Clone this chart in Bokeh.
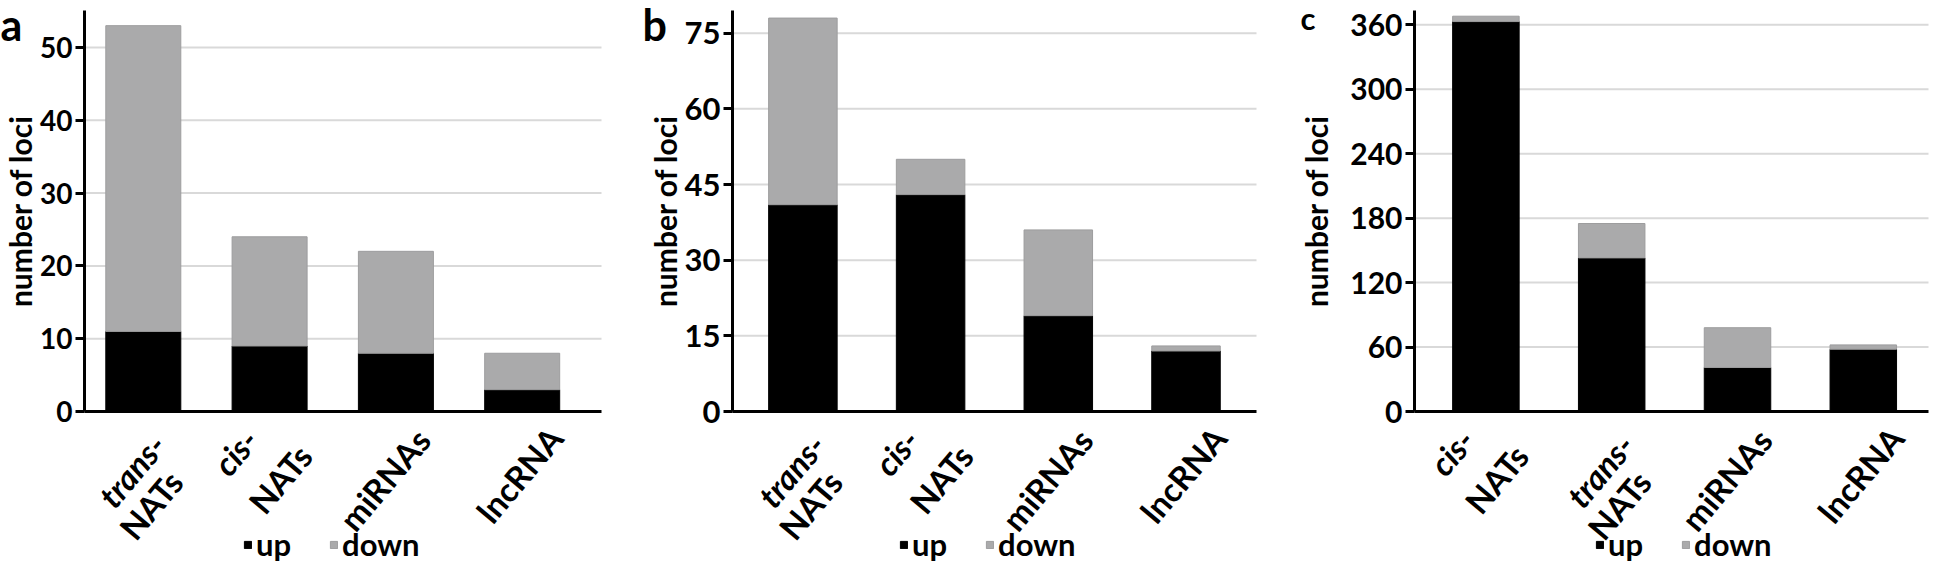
import math
from bokeh.plotting import figure
from bokeh.layouts import row
from bokeh.models import (ColumnDataSource, Range1d, FixedTicker, LinearAxis,
                          Legend, LegendItem, Label)
from bokeh.embed import file_html
from bokeh.resources import INLINE

# ---------------- data ----------------
CATS_A = ["trans-NATs", "cis-NATs", "miRNAs", "lncRNA"]
UP_A = [11, 9, 8, 3]
DOWN_A = [42, 15, 14, 5]
TICKS_A = [0, 10, 20, 30, 40, 50]

CATS_B = ["trans-NATs", "cis-NATs", "miRNAs", "lncRNA"]
UP_B = [41, 43, 19, 12]
DOWN_B = [37, 7, 17, 1]
TICKS_B = [0, 15, 30, 45, 60, 75]

CATS_C = ["cis-NATs", "trans-NATs", "miRNAs", "lncRNA"]
UP_C = [363, 143, 41, 58]
DOWN_C = [5, 32, 37, 4]
TICKS_C = [0, 60, 120, 180, 240, 300, 360]

PANEL_LETTERS = ["a", "b", "c"]
SERIES = ["up", "down"]
Y_TITLE = "number of loci"

# category label lines: (text, font style)
LABEL_LINES = {
    "trans-NATs": [("trans-", "bold italic"), ("NATs", "bold")],
    "cis-NATs": [("cis-", "bold italic"), ("NATs", "bold")],
    "miRNAs": [("miRNAs", "bold")],
    "lncRNA": [("lncRNA", "bold")],
}

# ---------------- style / layout (pixels) ----------------
FONT = "Lato"
UP_COLOR = "#000000"
DOWN_COLOR = "#aaaaab"
DOWN_EDGE = "#9d9d9e"
GRID_COLOR = "#d9d9d9"
PAGE_TOP = 8
H = 563
LABEL_ROTATION = math.radians(50)
CAT_FONT = "33px"
# right-end anchors of each label line (dx right, dy down) px, relative to (category centre, x axis)
LINE_ANCHOR = {
    ("trans-NATs", 0): (15, 27), ("trans-NATs", 1): (32, 64),
    ("cis-NATs", 0): (-19, 22), ("cis-NATs", 1): (35, 38),
    ("miRNAs", 0): (27, 22), ("lncRNA", 0): (33, 20),
}

LAYOUT = [
    dict(fig_left=8, w=642, axis_x=92, axis_end=609, first=150.8, step=126.3,
         zero=419, k=7.28, ytop=18, bar_px=75, tick_size="28px", title_standoff=-1,
         letter_x=0, letter_base=32, letter_size="43px", leg_x=243),
    dict(fig_left=650, w=646, axis_x=740, axis_end=1264, first=810.4, step=127.7,
         zero=419, k=5.044, ytop=18, bar_px=68.5, tick_size="31px", title_standoff=-1,
         letter_x=0, letter_base=32, letter_size="43px", leg_x=257),
    dict(fig_left=1296, w=642, axis_x=1422, axis_end=1936, first=1493.4, step=125.8,
         zero=419, k=1.0742, ytop=18, bar_px=66.5, tick_size="30px", title_standoff=13,
         letter_x=12, letter_base=25, letter_size="31px", leg_x=307),
]


def make_panel(letter, cats, up, down, ticks, L):
    # map pixel layout to data ranges
    x0 = 0.5 - (L["first"] - L["fig_left"]) / L["step"]
    x1 = x0 + L["w"] / L["step"]
    y0 = -(PAGE_TOP + H - L["zero"]) / L["k"]
    y1 = (L["zero"] - PAGE_TOP) / L["k"]
    xa = x0 + (L["axis_x"] - L["fig_left"]) / L["step"]
    xe = x0 + (L["axis_end"] - L["fig_left"]) / L["step"]
    ytop = (L["zero"] - L["ytop"]) / L["k"]

    pos = [i + 0.5 for i in range(len(cats))]
    src = ColumnDataSource(dict(x=pos, cat=cats, up=up, down=down))

    p = figure(x_range=Range1d(x0, x1), y_range=Range1d(y0, y1),
               width=L["w"], height=H, output_backend="svg",
               toolbar_location=None, title=None,
               x_axis_type=None, y_axis_type=None, min_border=0)
    p.outline_line_color = None
    p.background_fill_color = "white"
    p.border_fill_color = "white"

    # horizontal grid lines at the y ticks (from the y axis to the end of the x axis)
    gt = [t for t in ticks if t > 0]
    p.segment(x0=[xa] * len(gt), x1=[xe] * len(gt), y0=gt, y1=gt,
              line_color=GRID_COLOR, line_width=2, level="underlay")

    rs = p.vbar_stack(SERIES, x="x", width=L["bar_px"] / L["step"], source=src,
                      fill_color=[UP_COLOR, DOWN_COLOR],
                      line_color=[UP_COLOR, DOWN_EDGE], line_width=1)

    # y axis
    yax = LinearAxis(fixed_location=xa, bounds=(0, ytop),
                     ticker=FixedTicker(ticks=ticks), axis_label=Y_TITLE)
    yax.axis_line_width = 3
    yax.major_tick_line_width = 3
    yax.major_tick_out = 9
    yax.major_tick_in = 0
    yax.minor_tick_line_color = None
    yax.major_label_standoff = 3
    yax.major_label_text_font = FONT
    yax.major_label_text_font_style = "bold"
    yax.major_label_text_font_size = L["tick_size"]
    yax.major_label_text_color = "black"
    yax.axis_label_standoff = L["title_standoff"]
    yax.axis_label_text_font = FONT
    yax.axis_label_text_font_style = "bold"
    yax.axis_label_text_font_size = "30px"
    yax.axis_label_text_color = "black"
    p.add_layout(yax, "left")

    # x axis line
    xax = LinearAxis(fixed_location=0, bounds=(xa, xe), ticker=FixedTicker(ticks=[]))
    xax.axis_line_width = 3
    xax.major_tick_line_color = None
    xax.minor_tick_line_color = None
    p.add_layout(xax, "below")

    # slanted category names: one label line per helper axis (no line, no ticks)
    for xp, c in zip(pos, cats):
        for i, (t, s) in enumerate(LABEL_LINES[c]):
            dx, dy = LINE_ANCHOR[(c, i)]
            tk = xp + dx / L["step"]
            ax = LinearAxis(fixed_location=-dy / L["k"], ticker=FixedTicker(ticks=[tk]),
                            major_label_overrides={tk: t},
                            major_label_orientation=LABEL_ROTATION)
            ax.axis_line_color = None
            ax.major_tick_line_color = None
            ax.minor_tick_line_color = None
            ax.major_tick_out = 0
            ax.major_tick_in = 0
            ax.minor_tick_out = 0
            ax.major_label_standoff = 0
            ax.major_label_text_font = FONT
            ax.major_label_text_font_style = s
            ax.major_label_text_font_size = CAT_FONT
            ax.major_label_text_color = "black"
            p.add_layout(ax, "below")

    # panel letter
    p.add_layout(Label(x=L["letter_x"], y=PAGE_TOP + H - L["letter_base"],
                       x_units="screen", y_units="screen", text=letter,
                       text_font=FONT, text_font_style="bold",
                       text_font_size=L["letter_size"], text_color="black",
                       text_align="left", text_baseline="alphabetic"))

    legend = Legend(items=[LegendItem(label=s, renderers=[r]) for s, r in zip(SERIES, rs)],
                    location=(L["leg_x"], 0), orientation="horizontal",
                    glyph_width=9, glyph_height=9, label_standoff=4, spacing=38,
                    padding=0, margin=0, border_line_color=None,
                    background_fill_alpha=0,
                    label_text_font=FONT, label_text_font_style="bold",
                    label_text_font_size="31px", label_text_color="black")
    p.add_layout(legend, "center")
    return p


panels = [
    make_panel(PANEL_LETTERS[0], CATS_A, UP_A, DOWN_A, TICKS_A, LAYOUT[0]),
    make_panel(PANEL_LETTERS[1], CATS_B, UP_B, DOWN_B, TICKS_B, LAYOUT[1]),
    make_panel(PANEL_LETTERS[2], CATS_C, UP_C, DOWN_C, TICKS_C, LAYOUT[2]),
]
layout = row(*panels, spacing=0)

open("out.html", "w").write(file_html(layout, INLINE))
